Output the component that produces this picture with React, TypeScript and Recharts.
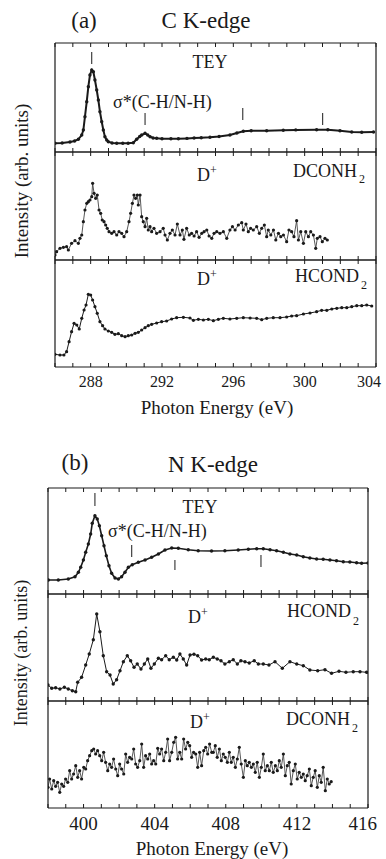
import React from "react";
import { LineChart, Line, XAxis, YAxis, ReferenceLine } from "recharts";

const FONT = "'Liberation Serif', 'DejaVu Serif', 'Noto Serif', serif";
const INK = "#1a1a1a";

// ---- panel (a): C K-edge, energies in eV, intensity in arb. units ----
const cTicks = [286, 287, 288, 289, 290, 291, 292, 293, 294, 295, 296, 297, 298, 299, 300, 301, 302, 303, 304];
const cLabels = [288, 292, 296, 300, 304];

const cTeyE = [286.0, 286.4, 286.84, 287.1, 287.31, 287.5, 287.59, 287.68, 287.78, 287.87, 287.96, 288.06, 288.15, 288.24, 288.34, 288.43, 288.52, 288.62, 288.71, 288.8, 288.9, 288.99, 289.2, 289.46, 289.8, 290.1, 290.39, 290.58, 290.75, 290.86, 291.05, 291.2, 291.33, 291.5, 291.7, 292.0, 292.5, 292.92, 293.4, 293.8, 294.2, 294.69, 295.2, 295.81, 296.2, 296.56, 297.0, 297.87, 298.8, 299.5, 300.67, 301.3, 301.98, 302.64, 303.2, 303.86];
const cTeyI = [8.7, 9.0, 10, 11, 12.7, 17, 22, 35.3, 50.3, 65.3, 77, 82, 80.3, 72, 62, 52, 40.3, 30.3, 22, 15.3, 12, 10.3, 9, 8.7, 8.7, 8.8, 9.3, 12.7, 15.5, 17, 18.7, 17, 15.3, 14, 13.7, 13.3, 13.2, 13.3, 13.6, 14, 14.3, 14.7, 15.5, 17, 19, 20.7, 21.2, 21.3, 21.8, 22.1, 22.3, 22.2, 21.3, 20, 19.8, 20];

const cDconE = [286.0, 286.09, 286.28, 286.47, 286.65, 286.75, 286.93, 287.12, 287.31, 287.4, 287.5, 287.59, 287.68, 287.78, 287.87, 287.96, 288.06, 288.11, 288.19, 288.28, 288.37, 288.47, 288.56, 288.65, 288.75, 288.84, 288.93, 289.03, 289.18, 289.31, 289.46, 289.59, 289.74, 289.87, 290.02, 290.15, 290.24, 290.34, 290.43, 290.52, 290.62, 290.67, 290.77, 290.86, 290.95, 291.05, 291.14, 291.23, 291.33, 291.42, 291.55, 291.7, 291.89, 292.07, 292.17, 292.3, 292.45, 292.58, 292.73, 292.86, 293.01, 293.14, 293.23, 293.38, 293.53, 293.66, 293.8, 293.94, 294.08, 294.23, 294.36, 294.51, 294.64, 294.79, 294.92, 295.07, 295.25, 295.44, 295.63, 295.81, 295.95, 296.1, 296.28, 296.47, 296.56, 296.71, 296.84, 296.97, 297.12, 297.31, 297.46, 297.59, 297.74, 297.87, 297.96, 298.1, 298.25, 298.38, 298.53, 298.66, 298.81, 298.99, 299.12, 299.27, 299.4, 299.55, 299.65, 299.78, 299.93, 300.06, 300.21, 300.34, 300.49, 300.62, 300.71, 300.86, 300.99, 301.14, 301.27];
const cDconI = [5, 8.3, 11.7, 12.7, 13.3, 10, 16.7, 19.3, 16.7, 21.7, 25, 38.3, 50, 56.7, 58.3, 60, 63.3, 76.7, 66.7, 61.7, 65, 50, 46.7, 40, 38.3, 35, 31.7, 28.3, 26.7, 28.3, 25, 28.3, 26.7, 23.3, 28.3, 38.3, 46.7, 56.7, 65, 61.7, 65, 55, 65, 43.3, 38.3, 33.3, 41.7, 30, 33.3, 28.3, 31.7, 26.7, 28.3, 31.7, 25, 20, 26.7, 30, 25, 36, 25, 30, 20.7, 31.7, 25, 26.7, 24, 28.3, 22.7, 26.7, 28.3, 30, 24, 21.7, 26.7, 28.3, 26.7, 28.3, 21.7, 30, 33.3, 30, 35, 37.3, 30, 36, 28.3, 31.7, 30, 33.3, 26.7, 31.7, 35, 23.3, 30, 25, 30, 20, 26.7, 23.3, 25, 18.3, 30, 28.3, 23.3, 39.3, 20, 28.3, 16.7, 28.3, 23.3, 28.3, 25, 11.7, 21.7, 23.3, 18.3, 21.7, 20];

const cHcodE = [286.0, 286.28, 286.5, 286.65, 286.79, 286.93, 287.07, 287.22, 287.36, 287.5, 287.63, 287.74, 287.87, 288.0, 288.11, 288.24, 288.37, 288.52, 288.67, 288.8, 288.99, 289.18, 289.36, 289.55, 289.74, 289.93, 290.11, 290.3, 290.49, 290.67, 290.86, 291.05, 291.23, 291.42, 291.7, 291.98, 292.26, 292.54, 292.82, 293.2, 293.57, 293.76, 294.04, 294.32, 294.6, 294.88, 295.16, 295.44, 295.81, 296.19, 296.56, 296.94, 297.31, 297.59, 297.87, 298.24, 298.62, 298.99, 299.27, 299.55, 299.93, 300.3, 300.67, 300.95, 301.24, 301.52, 301.8, 302.08, 302.36, 302.64, 302.92, 303.2, 303.48, 303.76];
const cHcodI = [12.7, 12, 12, 15.3, 25.3, 35.3, 43.7, 42, 38, 48.7, 57, 62, 72.7, 72, 67, 60.3, 53.7, 45.3, 41.3, 38, 36, 34.7, 32.7, 33.3, 31.3, 30.3, 31.3, 32, 33.7, 34.7, 37, 39.3, 41.3, 42.7, 44, 45.3, 46, 48, 49.3, 49.7, 49, 46.7, 47.7, 47, 47.7, 46.3, 47.7, 48.7, 48, 48.7, 49.3, 49, 48.7, 47.3, 48.7, 49.3, 49.3, 50, 51, 51.3, 53, 54, 55.3, 56.7, 56.7, 58, 58.7, 59.3, 59.3, 60.3, 61.3, 61.3, 62, 61];

// feature markers drawn above the TEY curve: energy, lower and upper end
const cMarkE = [288.06, 291.05, 296.53, 301.01];
const cMarkLo = [88, 27, 32, 27];
const cMarkHi = [100, 39, 44, 39];

// ---- panel (b): N K-edge ----
const nTicks = [398, 399, 400, 401, 402, 403, 404, 405, 406, 407, 408, 409, 410, 411, 412, 413, 414, 415, 416];
const nLabels = [400, 404, 408, 412, 416];

const nTeyE = [398.02, 398.58, 399.14, 399.52, 399.71, 399.84, 399.99, 400.12, 400.27, 400.4, 400.49, 400.64, 400.77, 400.89, 401.02, 401.15, 401.28, 401.43, 401.58, 401.77, 401.96, 402.14, 402.33, 402.52, 402.74, 403.08, 403.46, 403.83, 404.21, 404.58, 404.96, 405.33, 405.89, 406.45, 407.2, 407.95, 408.7, 409.27, 409.74, 410.11, 410.49, 410.86, 411.24, 411.61, 411.99, 412.36, 412.73, 413.11, 413.48, 413.86, 414.23, 414.61, 414.98, 415.36, 415.64, 416.0];
const nTeyI = [14, 14, 15, 17.3, 21.7, 26.7, 34, 41.7, 50, 60, 70.7, 78.3, 75, 68.3, 58.3, 48.3, 38.3, 28.3, 20.7, 16, 15, 17.3, 21.7, 26.7, 29.3, 31.7, 34, 36.7, 40, 44, 46, 45.7, 44.3, 43.3, 43, 43.3, 44, 44.7, 45.3, 45.3, 44.3, 43.3, 41.7, 40, 39, 37.3, 36, 35, 34.7, 34, 33.3, 32.3, 32, 31.3, 30.7, 31];

const nHcodE = [398.0, 398.21, 398.43, 398.67, 398.92, 399.14, 399.37, 399.56, 399.67, 399.89, 400.12, 400.32, 400.55, 400.74, 400.92, 401.11, 401.3, 401.49, 401.67, 401.86, 402.05, 402.24, 402.46, 402.65, 402.84, 403.02, 403.23, 403.42, 403.61, 403.79, 403.98, 404.21, 404.39, 404.62, 404.82, 405.05, 405.24, 405.42, 405.61, 405.8, 405.99, 406.21, 406.42, 406.64, 406.87, 407.07, 407.3, 407.52, 407.73, 407.95, 408.2, 408.42, 408.65, 408.85, 409.08, 409.32, 409.6, 409.83, 410.11, 410.43, 410.77, 411.18, 411.61, 411.99, 412.36, 412.73, 413.17, 413.58, 413.95, 414.37, 414.76, 415.17, 415.55, 415.92];
const nHcodI = [16, 12.7, 13.3, 12, 13.7, 12, 10.3, 9.3, 18.7, 23.7, 36, 47, 61.3, 87, 69.3, 45.3, 29.3, 26, 17, 21.3, 30.3, 39.3, 45.3, 40.3, 33.7, 37, 32, 37, 42, 32.7, 37, 42.7, 41.3, 45.3, 41.3, 43.7, 41, 47, 42, 36, 46, 46.7, 45.3, 41, 42, 41.3, 43.7, 42, 40.3, 37, 39.3, 41.3, 37, 40.3, 39.3, 38, 40.3, 37, 37, 36, 39.3, 32.7, 39.3, 37, 35.3, 31, 30.3, 31.3, 27.7, 29.7, 28.7, 29.3, 29.3, 28.7];

const nDconE = [398.0, 398.09, 398.21, 398.32, 398.43, 398.54, 398.66, 398.77, 398.88, 398.99, 399.11, 399.22, 399.33, 399.44, 399.56, 399.67, 399.78, 399.89, 400.01, 400.12, 400.23, 400.34, 400.46, 400.57, 400.68, 400.79, 400.91, 401.02, 401.13, 401.24, 401.36, 401.47, 401.58, 401.69, 401.81, 401.92, 402.03, 402.14, 402.26, 402.37, 402.48, 402.59, 402.71, 402.82, 402.93, 403.04, 403.16, 403.27, 403.38, 403.49, 403.61, 403.72, 403.83, 403.94, 404.06, 404.17, 404.28, 404.39, 404.51, 404.62, 404.73, 404.84, 404.96, 405.07, 405.18, 405.29, 405.41, 405.52, 405.63, 405.74, 405.86, 405.97, 406.08, 406.19, 406.31, 406.42, 406.53, 406.64, 406.76, 406.87, 406.98, 407.09, 407.21, 407.3, 407.41, 407.52, 407.64, 407.75, 407.86, 407.97, 408.09, 408.2, 408.31, 408.42, 408.54, 408.65, 408.76, 408.87, 408.99, 409.1, 409.21, 409.32, 409.44, 409.55, 409.66, 409.77, 409.89, 410.0, 410.11, 410.22, 410.34, 410.45, 410.56, 410.67, 410.79, 410.9, 411.01, 411.12, 411.24, 411.35, 411.46, 411.57, 411.68, 411.8, 411.91, 412.02, 412.13, 412.25, 412.36, 412.47, 412.58, 412.7, 412.81, 412.92, 413.03, 413.15, 413.26, 413.37, 413.48, 413.6, 413.71, 413.82, 413.93];
const nDconI = [20.7, 29, 19, 27.3, 21.7, 25.7, 15.7, 24, 21.7, 29, 25.7, 37.3, 29, 34, 42.3, 30.7, 37.3, 29, 40.7, 39, 47.3, 52.3, 57.3, 59, 54, 57.3, 52.3, 47.3, 55.7, 45.7, 37.3, 44, 40.7, 49, 39, 32.3, 44, 39, 34, 54, 45.7, 50.7, 49, 59, 44, 40.7, 47.3, 64, 40.7, 52.3, 49, 54, 44, 47.3, 44, 59.7, 54, 59, 47.3, 55.7, 69, 47.3, 55.7, 65.7, 70.7, 49, 55.7, 49, 69, 59, 65.7, 62.3, 50.7, 55.7, 54, 40.7, 55.7, 42.3, 57.3, 60.7, 54, 64, 55.7, 55.7, 62.3, 50.7, 59, 47.3, 54, 50.7, 45.7, 55.7, 45.7, 50.7, 40.7, 49, 60.7, 44, 30.7, 47.3, 42.3, 45.7, 40.7, 44, 35.7, 45.7, 30.7, 40.7, 54, 37.3, 42.3, 37.3, 45.7, 35.7, 42.3, 37.3, 47.3, 40.7, 54, 32.3, 42.3, 45.7, 24, 37.3, 44, 29, 35.7, 30.7, 34, 27.3, 32.3, 39, 22.3, 30.7, 37.3, 20.7, 32.3, 25.7, 40.7, 17.3, 29, 24, 26.3];

const nMarkE = [400.64, 402.71, 405.14, 409.98];
const nMarkLo = [88, 37, 24, 27];
const nMarkHi = [101, 49, 34, 39];

type Row = { e: number; v: number };
const zip = (es: number[], vs: number[]): Row[] => es.map((e, i) => ({ e, v: vs[i] }));

type StripProps = {
  rows: Row[];
  domain: [number, number];
  ticks: number[];
  labels?: number[];
  left: number;
  top: number;
  width: number;
  height: number;
  markE?: number[];
  markLo?: number[];
  markHi?: number[];
  lineW: number;
  lineColor: string;
  dotR: number;
  tickFont?: number;
  labelGap?: number;
  lastShift?: number;
};

// one framed strip of a stacked panel; axes are 1px thick so the frame is drawn
function Strip(p: StripProps) {
  const extra = p.labels ? 30 : 1;
  const padR = p.labels ? 9 : 0;
  const topTick = (t: any) => (
    <line x1={t.x} y1={t.y} x2={t.x} y2={t.y + 4} stroke={INK} strokeWidth={1} />
  );
  const bottomTick = (t: any) => {
    const show = p.labels && p.labels.includes(t.payload.value);
    // the right-most label is pulled in so it stays on the page
    const isLast = p.labels && t.payload.value === p.labels[p.labels.length - 1];
    return (
      <g>
        <line x1={t.x} y1={t.y} x2={t.x} y2={t.y - 4} stroke={INK} strokeWidth={1} />
        {show ? (
          <text
            x={isLast ? t.x + (p.lastShift ?? 0) : t.x}
            y={t.y + (p.labelGap ?? 20)}
            textAnchor={isLast ? "end" : "middle"}
            fontFamily={FONT}
            fontSize={p.tickFont ?? 16}
            fill={INK}
          >
            {t.payload.value}
          </text>
        ) : null}
      </g>
    );
  };
  return (
    <div style={{ position: "absolute", left: p.left - 1, top: p.top - 1 }}>
      <LineChart
        width={p.width + 2 + padR}
        height={p.height + 1 + extra}
        data={p.rows}
        margin={{ top: 0, right: padR, bottom: 0, left: 0 }}
      >
        <XAxis
          xAxisId="b"
          type="number"
          dataKey="e"
          domain={p.domain}
          ticks={p.ticks}
          interval={0}
          allowDataOverflow
          height={extra}
          tickSize={0}
          tickMargin={0}
          tickLine={false}
          axisLine={{ stroke: INK, strokeWidth: 1.2 }}
          tick={bottomTick}
        />
        <XAxis
          xAxisId="t"
          orientation="top"
          type="number"
          dataKey="e"
          domain={p.domain}
          ticks={p.ticks}
          interval={0}
          allowDataOverflow
          height={1}
          tickSize={0}
          tickMargin={0}
          tickLine={false}
          axisLine={{ stroke: INK, strokeWidth: 1.2 }}
          tick={topTick}
        />
        <YAxis yAxisId="l" type="number" domain={[0, p.height]} width={1} tick={false} tickLine={false} axisLine={{ stroke: INK, strokeWidth: 1.2 }} allowDataOverflow />
        <YAxis yAxisId="r" orientation="right" type="number" domain={[0, p.height]} width={1} tick={false} tickLine={false} axisLine={{ stroke: INK, strokeWidth: 1.2 }} allowDataOverflow />
        {(p.markE ?? []).map((e, i) => (
          <ReferenceLine
            key={"m" + i}
            xAxisId="b"
            yAxisId="l"
            segment={[{ x: e, y: p.markLo![i] }, { x: e, y: p.markHi![i] }]}
            stroke={INK}
            strokeWidth={1}
          />
        ))}
        <Line
          xAxisId="b"
          yAxisId="l"
          type="linear"
          dataKey="v"
          stroke={p.lineColor}
          strokeWidth={p.lineW}
          dot={{ r: p.dotR, fill: INK, stroke: INK, strokeWidth: 0 }}
          activeDot={false}
          isAnimationActive={false}
        />
      </LineChart>
    </div>
  );
}

const T = (props: { x: number; y: number; size: number; anchor?: "start" | "middle" | "end"; children: React.ReactNode }) => (
  <text x={props.x} y={props.y} fontSize={props.size} textAnchor={props.anchor ?? "start"} style={{ fontFamily: FONT }} fill={INK}>
    {props.children}
  </text>
);

export default function App() {
  return (
    <div style={{ position: "absolute", left: 0, top: 0, width: 386, height: 859, background: "#fff", fontFamily: FONT }}>
      {/* panel (a) */}
      <Strip rows={zip(cTeyE, cTeyI)} domain={[286, 304]} ticks={cTicks} left={55} top={43} width={321} height={109}
        markE={cMarkE} markLo={cMarkLo} markHi={cMarkHi} lineW={2} lineColor={INK} dotR={1.7} />
      <Strip rows={zip(cDconE, cDconI)} domain={[286, 304]} ticks={cTicks} left={55} top={152} width={321} height={108}
        lineW={0.9} lineColor="#444" dotR={1.6} />
      <Strip rows={zip(cHcodE, cHcodI)} domain={[286, 304]} ticks={cTicks} labels={cLabels} left={55} top={260} width={321} height={107}
        lineW={1} lineColor={INK} dotR={1.6} tickFont={16} labelGap={20} lastShift={5} />

      {/* panel (b) */}
      <Strip rows={zip(nTeyE, nTeyI)} domain={[398, 416]} ticks={nTicks} left={48} top={488} width={320} height={106}
        markE={nMarkE} markLo={nMarkLo} markHi={nMarkHi} lineW={1.6} lineColor={INK} dotR={1.7} />
      <Strip rows={zip(nHcodE, nHcodI)} domain={[398, 416]} ticks={nTicks} left={48} top={594} width={320} height={107}
        lineW={1} lineColor={INK} dotR={1.7} />
      <Strip rows={zip(nDconE, nDconI)} domain={[398, 416]} ticks={nTicks} labels={nLabels} left={48} top={701} width={320} height={107}
        lineW={0.9} lineColor="#444" dotR={1.6} tickFont={19} labelGap={22} lastShift={9} />

      <svg width={386} height={859} style={{ position: "absolute", left: 0, top: 0, pointerEvents: "none" }}>
        <T x={84} y={28} size={23} anchor="middle">(a)</T>
        <T x={206} y={28} size={23} anchor="middle">C K-edge</T>
        <T x={210} y={68} size={18} anchor="middle">TEY</T>
        <T x={113} y={108} size={18}>σ*(C-H/N-H)</T>
        <T x={197} y={181} size={18}>D<tspan dy={-7} fontSize={12}>+</tspan></T>
        <T x={293} y={177} size={18}>DCONH<tspan dx={2} dy={6} fontSize={12}>2</tspan></T>
        <T x={197} y={285} size={18}>D<tspan dy={-7} fontSize={12}>+</tspan></T>
        <T x={295} y={282} size={18}>HCOND<tspan dx={2} dy={7} fontSize={12}>2</tspan></T>
        <text x={28} y={181} fontSize={19} style={{ fontFamily: FONT }} fill={INK} textAnchor="middle" transform="rotate(-90 28 181)">Intensity (arb. units)</text>
        <T x={217} y={414} size={19} anchor="middle">Photon Energy (eV)</T>

        <T x={75} y={470} size={23} anchor="middle">(b)</T>
        <T x={213} y={472} size={23} anchor="middle">N K-edge</T>
        <T x={200} y={513} size={18} anchor="middle">TEY</T>
        <T x={108} y={537} size={18}>σ*(C-H/N-H)</T>
        <T x={188} y={623} size={18}>D<tspan dy={-7} fontSize={12}>+</tspan></T>
        <T x={287} y={617} size={18}>HCOND<tspan dx={2} dy={8} fontSize={12}>2</tspan></T>
        <T x={190} y={728} size={18}>D<tspan dy={-7} fontSize={12}>+</tspan></T>
        <T x={286} y={725} size={18}>DCONH<tspan dx={2} dy={7} fontSize={12}>2</tspan></T>
        <text x={27} y={653} fontSize={18} style={{ fontFamily: FONT }} fill={INK} textAnchor="middle" transform="rotate(-90 27 653)">Intensity (arb. units)</text>
        <T x={212} y={855} size={19} anchor="middle">Photon Energy (eV)</T>
      </svg>
    </div>
  );
}
